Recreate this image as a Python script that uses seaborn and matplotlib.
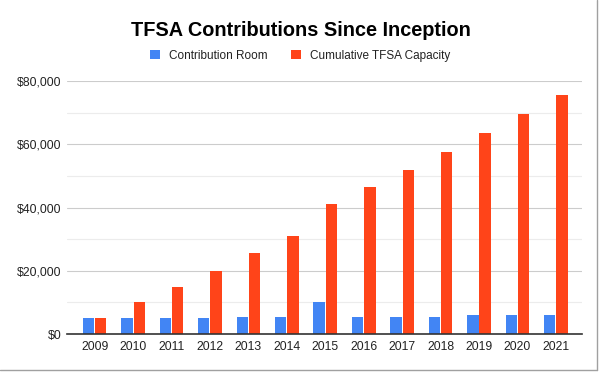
import matplotlib
matplotlib.use("Agg")
import matplotlib.pyplot as plt
from matplotlib.lines import Line2D
from matplotlib.patches import Patch
from matplotlib.ticker import FuncFormatter, MultipleLocator
import seaborn as sns
import pandas as pd

# data
years = ["2009", "2010", "2011", "2012", "2013", "2014", "2015",
         "2016", "2017", "2018", "2019", "2020", "2021"]
contribution_room = [5000, 5000, 5000, 5000, 5500, 5500, 10000,
                     5500, 5500, 5500, 6000, 6000, 6000]
cumulative_capacity = [5000, 10000, 15000, 20000, 25500, 31000, 41000,
                       46500, 52000, 57500, 63500, 69500, 75500]
series_names = ["Contribution Room", "Cumulative TFSA Capacity"]
colors = ["#4285F4", "#FF4419"]

df = pd.DataFrame({
    "year": years * 2,
    "value": contribution_room + cumulative_capacity,
    "series": [series_names[0]] * len(years) + [series_names[1]] * len(years),
})

sns.set_theme(style="white")
plt.rcParams["font.family"] = ["Liberation Sans", "DejaVu Sans"]

fig = plt.figure(figsize=(6.01, 3.73), dpi=100)
ax = fig.add_axes([67 / 601, 39 / 373, 515 / 601, 253 / 373])

sns.barplot(data=df, x="year", y="value", hue="series", order=years,
            hue_order=series_names, palette=colors, width=0.64, gap=0.08,
            saturation=1, linewidth=0, ax=ax, legend=False)

ax.set_xlim(-0.72, 12.68)
ax.set_ylim(0, 80000)
ax.set_yticks([0, 20000, 40000, 60000, 80000])
ax.yaxis.set_minor_locator(MultipleLocator(10000))
ax.yaxis.set_major_formatter(FuncFormatter(lambda v, p: f"${v:,.0f}"))
ax.grid(axis="y", which="major", color="#cccccc", linewidth=0.8)
ax.grid(axis="y", which="minor", color="#ececec", linewidth=0.8)
ax.set_axisbelow(True)
for s in ["top", "right", "left"]:
    ax.spines[s].set_visible(False)
ax.spines["bottom"].set_color("#333333")
ax.spines["bottom"].set_linewidth(1.2)
ax.tick_params(axis="both", which="both", length=0, labelsize=8.8, colors="#222222")
ax.tick_params(axis="y", pad=4)
ax.tick_params(axis="x", pad=5)
ax.set_xlabel("")
ax.set_ylabel("")

fig.text(0.5, 1 - 30 / 373, "TFSA Contributions Since Inception",
         ha="center", va="center", fontsize=14.3, fontweight="bold", color="black")

handles = [Patch(facecolor=c, edgecolor="none") for c in colors]
fig.legend(handles, series_names, loc="center", bbox_to_anchor=(0.5, 1 - 56 / 373),
           ncol=2, frameon=False, fontsize=8.5, handlelength=0.8, handleheight=0.8,
           columnspacing=2.0, handletextpad=0.8, labelcolor="#222222")

# outer frame of the screenshot
fig.add_artist(Line2D([597 / 601, 597 / 601], [3 / 373, 1], color="#a0a0a0", lw=1))
fig.add_artist(Line2D([0, 597 / 601], [3 / 373, 3 / 373], color="#a0a0a0", lw=1))

fig.savefig("out.png", dpi=100)
